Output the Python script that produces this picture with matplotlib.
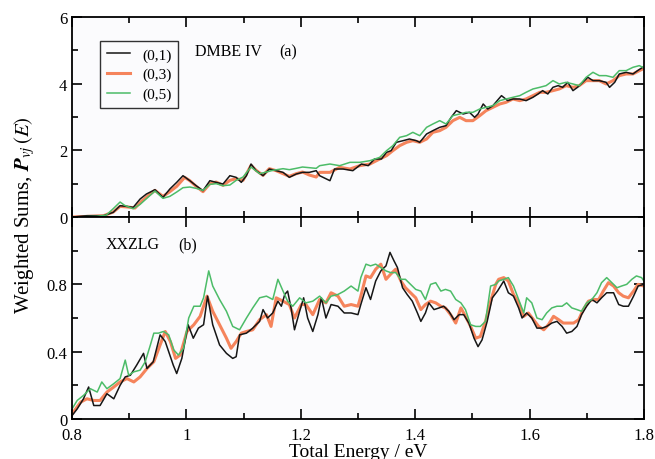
import matplotlib
matplotlib.use("Agg")
import matplotlib.pyplot as plt
from matplotlib.ticker import MultipleLocator

# Energies (eV) and weighted sums, panel (a): DMBE IV
e_top_lo1 = [0.800, 0.826, 0.855, 0.872, 0.884, 0.895, 0.907, 0.919, 0.930, 0.945,
             0.959, 0.971, 0.983, 0.994, 1.006, 1.017, 1.029, 1.041, 1.052, 1.064,
             1.076, 1.087, 1.096, 1.105, 1.113, 1.122, 1.134, 1.145, 1.157, 1.169,
             1.180, 1.192, 1.203, 1.215, 1.227]
p_top_lo1 = [0.00, 0.04, 0.04, 0.14, 0.34, 0.32, 0.29, 0.54, 0.69, 0.82,
             0.59, 0.84, 1.04, 1.24, 1.09, 0.94, 0.79, 1.09, 1.04, 0.99,
             1.24, 1.19, 1.04, 1.24, 1.59, 1.39, 1.24, 1.44, 1.39, 1.34,
             1.19, 1.29, 1.34, 1.34, 1.39]
e_top_hi1 = [1.233, 1.251, 1.259, 1.274, 1.291, 1.306, 1.318, 1.329, 1.341, 1.350,
             1.358, 1.367, 1.379, 1.390, 1.402, 1.408, 1.420, 1.431, 1.443, 1.454,
             1.463, 1.472, 1.484, 1.495, 1.504, 1.510, 1.519, 1.527, 1.536, 1.551,
             1.562, 1.571, 1.583, 1.594, 1.606, 1.615, 1.623, 1.632, 1.641, 1.650,
             1.658, 1.667, 1.676, 1.684, 1.693, 1.702, 1.711, 1.722, 1.734, 1.740,
             1.749, 1.757, 1.769, 1.781, 1.789, 1.798]
p_top_hi1 = [1.24, 1.09, 1.44, 1.44, 1.39, 1.59, 1.54, 1.74, 1.74, 1.94,
             1.99, 2.24, 2.29, 2.34, 2.29, 2.24, 2.49, 2.59, 2.69, 2.74,
             2.99, 3.19, 3.09, 3.14, 2.99, 3.09, 3.39, 3.24, 3.34, 3.64,
             3.49, 3.54, 3.54, 3.49, 3.59, 3.69, 3.79, 3.69, 3.89, 3.94,
             3.89, 4.04, 3.79, 3.89, 4.04, 4.19, 4.09, 4.09, 4.04, 3.89,
             4.04, 4.29, 4.34, 4.29, 4.39, 4.49]

e_top_lo3 = [0.800, 0.855, 0.872, 0.884, 0.898, 0.910, 0.922, 0.933, 0.945, 0.959,
             0.971, 0.983, 0.997, 1.006, 1.017, 1.029, 1.041, 1.052, 1.064, 1.076,
             1.087, 1.099, 1.113, 1.122, 1.134, 1.145, 1.157, 1.169, 1.180, 1.192,
             1.203, 1.215, 1.227]
p_top_lo3 = [0.00, 0.04, 0.15, 0.32, 0.30, 0.27, 0.48, 0.64, 0.80, 0.62,
             0.76, 0.92, 1.19, 1.09, 0.92, 0.76, 1.00, 1.05, 0.95, 1.10,
             1.15, 1.10, 1.55, 1.40, 1.25, 1.45, 1.39, 1.30, 1.22, 1.30,
             1.35, 1.26, 1.20]

e_top_lo5 = [0.800, 0.843, 0.860, 0.872, 0.884, 0.892, 0.907, 0.919, 0.930, 0.945,
             0.959, 0.971, 0.983, 0.994, 1.006, 1.017, 1.029, 1.041, 1.052, 1.064,
             1.076, 1.087, 1.099, 1.113, 1.128, 1.140, 1.151, 1.169, 1.180, 1.192,
             1.203, 1.215, 1.227]
p_top_lo5 = [0.00, 0.02, 0.06, 0.25, 0.45, 0.35, 0.25, 0.38, 0.55, 0.78,
             0.56, 0.62, 0.75, 0.88, 0.90, 0.86, 0.80, 0.98, 1.00, 0.94,
             0.96, 1.10, 1.20, 1.50, 1.30, 1.35, 1.40, 1.45, 1.42, 1.46,
             1.50, 1.48, 1.46]

# shared energy grid above 1.23 eV for (0,3) and (0,5)
e_top_hi = [1.233, 1.251, 1.268, 1.286, 1.303, 1.321, 1.338, 1.350, 1.361, 1.373,
            1.385, 1.396, 1.408, 1.420, 1.431, 1.443, 1.454, 1.466, 1.478, 1.489,
            1.501, 1.513, 1.524, 1.536, 1.548, 1.559, 1.571, 1.583, 1.594, 1.606,
            1.618, 1.629, 1.641, 1.652, 1.664, 1.676, 1.687, 1.699, 1.711, 1.722,
            1.734, 1.746, 1.757, 1.769, 1.781, 1.792, 1.798]
p_top_hi3 = [1.34, 1.34, 1.49, 1.44, 1.54, 1.59, 1.74, 1.84, 1.99, 2.14,
             2.24, 2.29, 2.24, 2.34, 2.54, 2.59, 2.69, 2.89, 2.99, 2.89,
             2.89, 3.04, 3.19, 3.29, 3.39, 3.44, 3.54, 3.49, 3.54, 3.64,
             3.74, 3.74, 3.79, 3.84, 3.94, 3.89, 3.94, 4.09, 4.09, 4.09,
             3.99, 4.09, 4.24, 4.29, 4.29, 4.39, 4.44]
p_top_hi5 = [1.54, 1.59, 1.54, 1.64, 1.64, 1.69, 1.79, 1.99, 2.14, 2.39,
             2.44, 2.54, 2.44, 2.69, 2.79, 2.89, 2.79, 3.04, 3.09, 3.14,
             3.14, 3.24, 3.29, 3.34, 3.49, 3.54, 3.59, 3.64, 3.74, 3.84,
             3.89, 3.94, 4.09, 3.99, 4.04, 3.99, 3.94, 4.19, 4.34, 4.24,
             4.24, 4.19, 4.39, 4.39, 4.49, 4.54, 4.49]

# panel (b): XXZLG
e_bot1 = [0.800, 0.809, 0.820, 0.829, 0.838, 0.849, 0.861, 0.873, 0.884, 0.893,
          0.902, 0.913, 0.925, 0.931, 0.942, 0.954, 0.963, 0.969, 0.977, 0.983,
          0.992, 1.003, 1.012, 1.021, 1.030, 1.037, 1.046, 1.058, 1.070, 1.081,
          1.087, 1.093, 1.105, 1.116, 1.128, 1.134, 1.142, 1.151, 1.160, 1.166,
          1.172, 1.177, 1.183, 1.189, 1.198, 1.205, 1.212, 1.221, 1.230, 1.236,
          1.244, 1.253, 1.265, 1.276, 1.288, 1.300, 1.305, 1.314, 1.322, 1.331,
          1.340, 1.349, 1.356, 1.363, 1.369, 1.378, 1.386, 1.395, 1.404, 1.410,
          1.418, 1.424, 1.433, 1.442, 1.450, 1.459, 1.468, 1.477, 1.485, 1.494,
          1.503, 1.510, 1.517, 1.526, 1.535, 1.544, 1.555, 1.563, 1.572, 1.581,
          1.587, 1.595, 1.604, 1.613, 1.622, 1.630, 1.639, 1.648, 1.657, 1.665,
          1.674, 1.683, 1.691, 1.700, 1.709, 1.718, 1.726, 1.735, 1.747, 1.756,
          1.764, 1.773, 1.782, 1.790, 1.800]
p_bot1 = [0.02, 0.06, 0.12, 0.19, 0.08, 0.08, 0.15, 0.12, 0.20, 0.25,
          0.26, 0.32, 0.39, 0.30, 0.34, 0.50, 0.46, 0.40, 0.32, 0.27,
          0.36, 0.56, 0.48, 0.54, 0.56, 0.73, 0.56, 0.44, 0.39, 0.36,
          0.37, 0.50, 0.51, 0.54, 0.58, 0.65, 0.60, 0.63, 0.70, 0.67,
          0.74, 0.76, 0.66, 0.53, 0.64, 0.72, 0.60, 0.52, 0.62, 0.72,
          0.60, 0.68, 0.67, 0.63, 0.63, 0.62, 0.68, 0.78, 0.71, 0.82,
          0.88, 0.91, 0.99, 0.94, 0.90, 0.78, 0.74, 0.70, 0.63, 0.58,
          0.63, 0.69, 0.65, 0.66, 0.67, 0.64, 0.59, 0.62, 0.62, 0.57,
          0.48, 0.43, 0.47, 0.58, 0.72, 0.76, 0.82, 0.75, 0.73, 0.66,
          0.60, 0.63, 0.60, 0.54, 0.54, 0.55, 0.57, 0.58, 0.55, 0.51,
          0.52, 0.55, 0.62, 0.67, 0.71, 0.69, 0.72, 0.75, 0.75, 0.68,
          0.67, 0.67, 0.73, 0.79, 0.80]

e_bot3 = [0.800, 0.815, 0.826, 0.838, 0.849, 0.861, 0.873, 0.884, 0.896, 0.908,
          0.919, 0.931, 0.943, 0.954, 0.963, 0.972, 0.981, 0.989, 1.001, 1.013,
          1.024, 1.036, 1.046, 1.058, 1.070, 1.078, 1.087, 1.096, 1.105, 1.116,
          1.128, 1.140, 1.148, 1.157, 1.169, 1.180, 1.189, 1.201, 1.209, 1.221,
          1.233, 1.244, 1.253, 1.265, 1.276, 1.288, 1.300, 1.305, 1.314, 1.322,
          1.331, 1.340, 1.349, 1.357, 1.366, 1.375, 1.383, 1.392, 1.401, 1.410,
          1.418, 1.427, 1.436, 1.445, 1.453, 1.462, 1.471, 1.480, 1.488, 1.497,
          1.506, 1.514, 1.523, 1.532, 1.541, 1.546, 1.555, 1.563, 1.572, 1.581,
          1.590, 1.598, 1.607, 1.616, 1.625, 1.633, 1.642, 1.651, 1.659, 1.668,
          1.677, 1.686, 1.694, 1.703, 1.712, 1.721, 1.729, 1.738, 1.747, 1.756,
          1.764, 1.773, 1.782, 1.790, 1.800]
p_bot3 = [0.03, 0.10, 0.12, 0.11, 0.11, 0.16, 0.19, 0.22, 0.24, 0.22,
          0.25, 0.30, 0.34, 0.44, 0.52, 0.46, 0.36, 0.38, 0.52, 0.56,
          0.61, 0.73, 0.64, 0.56, 0.48, 0.42, 0.46, 0.51, 0.52, 0.53,
          0.59, 0.62, 0.55, 0.72, 0.70, 0.68, 0.60, 0.68, 0.68, 0.62,
          0.71, 0.69, 0.75, 0.73, 0.67, 0.68, 0.67, 0.73, 0.85, 0.84,
          0.89, 0.92, 0.83, 0.86, 0.89, 0.82, 0.78, 0.75, 0.72, 0.65,
          0.68, 0.70, 0.69, 0.67, 0.66, 0.62, 0.57, 0.66, 0.61, 0.55,
          0.48, 0.49, 0.58, 0.70, 0.80, 0.83, 0.84, 0.82, 0.74, 0.69,
          0.61, 0.63, 0.59, 0.55, 0.53, 0.56, 0.61, 0.59, 0.57, 0.57,
          0.57, 0.59, 0.65, 0.70, 0.71, 0.71, 0.76, 0.81, 0.79, 0.75,
          0.73, 0.72, 0.76, 0.80, 0.79]

e_bot5 = [0.800, 0.809, 0.820, 0.832, 0.844, 0.852, 0.861, 0.873, 0.884, 0.893,
          0.899, 0.908, 0.919, 0.928, 0.937, 0.943, 0.951, 0.960, 0.969, 0.978,
          0.986, 0.995, 1.004, 1.013, 1.024, 1.030, 1.039, 1.046, 1.058, 1.070,
          1.081, 1.093, 1.105, 1.116, 1.128, 1.140, 1.151, 1.160, 1.169, 1.177,
          1.186, 1.198, 1.209, 1.221, 1.233, 1.244, 1.253, 1.265, 1.276, 1.288,
          1.300, 1.305, 1.314, 1.322, 1.331, 1.340, 1.349, 1.357, 1.366, 1.375,
          1.383, 1.392, 1.401, 1.410, 1.418, 1.427, 1.436, 1.445, 1.453, 1.462,
          1.471, 1.480, 1.488, 1.497, 1.506, 1.514, 1.523, 1.532, 1.541, 1.546,
          1.555, 1.563, 1.572, 1.581, 1.590, 1.595, 1.604, 1.613, 1.622, 1.630,
          1.639, 1.648, 1.657, 1.665, 1.674, 1.683, 1.691, 1.700, 1.709, 1.718,
          1.726, 1.735, 1.744, 1.753, 1.761, 1.770, 1.779, 1.787, 1.796, 1.800]
p_bot5 = [0.06, 0.11, 0.14, 0.18, 0.16, 0.22, 0.18, 0.21, 0.24, 0.35,
          0.26, 0.28, 0.29, 0.34, 0.44, 0.51, 0.51, 0.52, 0.50, 0.41,
          0.38, 0.42, 0.60, 0.67, 0.67, 0.72, 0.88, 0.79, 0.71, 0.64,
          0.55, 0.53, 0.60, 0.66, 0.72, 0.73, 0.71, 0.83, 0.76, 0.70,
          0.67, 0.72, 0.69, 0.70, 0.73, 0.69, 0.73, 0.74, 0.76, 0.79,
          0.76, 0.84, 0.92, 0.91, 0.92, 0.90, 0.88, 0.87, 0.87, 0.83,
          0.83, 0.80, 0.77, 0.76, 0.71, 0.80, 0.81, 0.76, 0.77, 0.76,
          0.71, 0.69, 0.65, 0.56, 0.55, 0.55, 0.58, 0.79, 0.80, 0.82,
          0.83, 0.84, 0.79, 0.71, 0.63, 0.72, 0.69, 0.60, 0.59, 0.63,
          0.66, 0.67, 0.67, 0.69, 0.66, 0.65, 0.64, 0.69, 0.71, 0.75,
          0.81, 0.84, 0.81, 0.78, 0.79, 0.80, 0.83, 0.85, 0.84, 0.82]

labels = ["(0,1)", "(0,3)", "(0,5)"]
colors = ["#161616", "#f5845c", "#4cbc68"]
widths = [1.1, 2.2, 1.1]

plt.rcParams["font.family"] = ["Liberation Serif", "DejaVu Serif"]
plt.rcParams["mathtext.fontset"] = "stix"

fig = plt.figure(figsize=(6.55, 4.60), dpi=100)
fig.patch.set_facecolor("white")
ax1 = fig.add_axes([0.110, 0.526, 0.873, 0.435])
ax2 = fig.add_axes([0.110, 0.087, 0.873, 0.439], sharex=ax1)

top_series = [
    (e_top_lo1 + e_top_hi1, p_top_lo1 + p_top_hi1),
    (e_top_lo3 + e_top_hi, p_top_lo3 + p_top_hi3),
    (e_top_lo5 + e_top_hi, p_top_lo5 + p_top_hi5),
]
bot_series = [(e_bot1, p_bot1), (e_bot3, p_bot3), (e_bot5, p_bot5)]

# draw orange underneath so the thin lines stay visible
order = [1, 0, 2]
for i in order:
    ax1.plot(*top_series[i], color=colors[i], lw=widths[i], label=labels[i])
    ax2.plot(*bot_series[i], color=colors[i], lw=widths[i])

for ax in (ax1, ax2):
    ax.set_facecolor("#fbfbfd")
    ax.set_xlim(0.8, 1.8)
    ax.xaxis.set_major_locator(MultipleLocator(0.2))
    ax.xaxis.set_minor_locator(MultipleLocator(0.1))
    ax.tick_params(which="both", direction="in", top=True, right=True,
                   labelsize=12, width=1.2)
    ax.tick_params(which="major", length=7)
    ax.tick_params(which="minor", length=4)
    for s in ax.spines.values():
        s.set_linewidth(1.3)

ax1.set_ylim(0, 6)
ax1.yaxis.set_major_locator(MultipleLocator(2))
ax1.yaxis.set_minor_locator(MultipleLocator(1))
ax1.tick_params(labelbottom=False)

ax2.set_ylim(0, 1.2)
ax2.set_yticks([0, 0.4, 0.8])
ax2.set_yticklabels(["0", "0.4", "0.8"])
ax2.yaxis.set_minor_locator(MultipleLocator(0.2))
ax2.set_xticks([0.8, 1.0, 1.2, 1.4, 1.6, 1.8])
ax2.set_xticklabels(["0.8", "1", "1.2", "1.4", "1.6", "1.8"])
ax2.tick_params(axis="x", pad=6)

handles, labs = ax1.get_legend_handles_labels()
idx = [labs.index(l) for l in labels]
leg = ax1.legend([handles[k] for k in idx], labels, loc="upper left",
                 bbox_to_anchor=(0.049, 0.88), borderaxespad=0, fontsize=11,
                 frameon=True, fancybox=False, edgecolor="black",
                 handlelength=1.5, borderpad=0.45, labelspacing=0.38,
                 handletextpad=0.8)
leg.get_frame().set_linewidth(1.0)
leg.get_frame().set_facecolor("#fbfbfd")

ax1.text(0.215, 0.83, "DMBE IV", transform=ax1.transAxes, fontsize=11.5, va="center")
ax1.text(0.363, 0.83, "(a)", transform=ax1.transAxes, fontsize=11.5, va="center")
ax2.text(0.058, 0.866, "XXZLG", transform=ax2.transAxes, fontsize=11.5, va="center")
ax2.text(0.185, 0.866, "(b)", transform=ax2.transAxes, fontsize=11.5, va="center")

ax2.set_xlabel("Total Energy / eV", fontsize=14, labelpad=0)
fig.text(0.038, 0.533, r"Weighted Sums, $\mathbfit{P}_{vj}\,(E)$", rotation=90,
         fontsize=15, ha="center", va="center")

fig.savefig("out.png", dpi=100)
plt.close(fig)
